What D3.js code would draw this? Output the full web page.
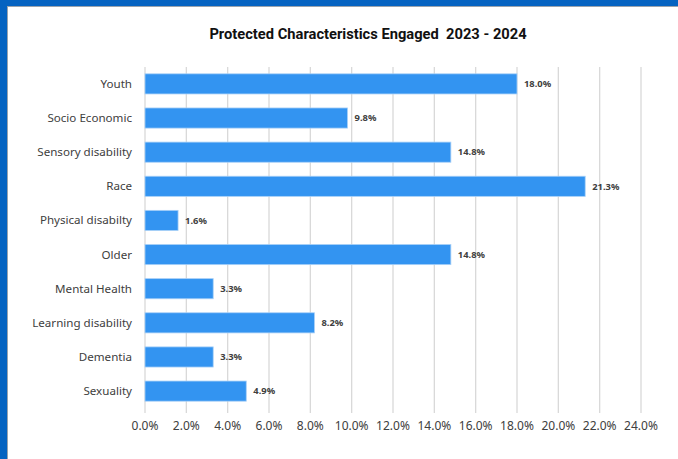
<!DOCTYPE html>
<html>
<head>
<meta charset="utf-8">
<script src="https://cdn.jsdelivr.net/npm/d3@7"></script>
<style>
  body { margin: 0; background: #fff; }
  svg { display: block; }
</style>
</head>
<body>
<div class="chart"></div>
<script>
var categories = ['Youth', 'Socio Economic', 'Sensory disability', 'Race', 'Physical disabilty',
                  'Older', 'Mental Health', 'Learning disability', 'Dementia', 'Sexuality'];
var values = [18.0, 9.8, 14.8, 21.3, 1.6, 14.8, 3.3, 8.2, 3.3, 4.9];
var xTicks = [0, 2, 4, 6, 8, 10, 12, 14, 16, 18, 20, 22, 24];
var title = 'Protected Characteristics Engaged  2023 - 2024';

var width = 678,
    height = 459,
    plotLeft = 145,
    plotRight = 641,
    plotTop = 67,
    plotBottom = 408;

var svg = d3.select('.chart')
  .append('svg')
    .attr('width', width)
    .attr('height', height);

// frame
svg.append('rect').attr('x', 0).attr('y', 0).attr('width', width).attr('height', height).attr('fill', '#fff');
svg.append('rect').attr('x', 0).attr('y', 0).attr('width', width).attr('height', 6).attr('fill', '#0563c1');
svg.append('rect').attr('x', 0).attr('y', 0).attr('width', 7).attr('height', height).attr('fill', '#0563c1');
svg.append('line').attr('x1', 7).attr('x2', width).attr('y1', 6.5).attr('y2', 6.5).attr('stroke', '#9aa3ad').attr('stroke-width', 1);
svg.append('line').attr('x1', 7.5).attr('x2', 7.5).attr('y1', 6).attr('y2', height).attr('stroke', '#9aa3ad').attr('stroke-width', 1);

var x = d3.scaleLinear().domain([0, 24]).range([plotLeft, plotRight]);
var y = d3.scaleBand().domain(categories).range([plotTop, plotBottom]).paddingInner(0.41).paddingOuter(0.2);

var font = '"Liberation Sans Narrow", "Roboto", "Liberation Sans", sans-serif';

svg.append('text')
    .attr('x', 368)
    .attr('y', 39)
    .attr('text-anchor', 'middle')
    .attr('xml:space', 'preserve')
    .style('white-space', 'pre')
    .style('font-family', font)
    .style('font-weight', 'bold')
    .style('font-size', '14.7px')
    .style('fill', '#111')
    .text(title);

// gridlines
svg.append('g').selectAll('line').data(xTicks).enter().append('line')
    .attr('x1', function(d) { return x(d); })
    .attr('x2', function(d) { return x(d); })
    .attr('y1', plotTop)
    .attr('y2', plotBottom + 5)
    .attr('stroke', '#d9d9d9')
    .attr('stroke-width', 1.3);

// x tick labels
svg.append('g').selectAll('text').data(xTicks).enter().append('text')
    .attr('x', function(d) { return x(d); })
    .attr('y', 430)
    .attr('text-anchor', 'middle')
    .style('font-family', '"Noto Sans", sans-serif')
    .style('font-size', '12px')
    .style('fill', '#404040')
    .text(function(d) { return d.toFixed(1) + '%'; });

// category labels
svg.append('g').selectAll('text').data(categories).enter().append('text')
    .attr('x', 132)
    .attr('y', function(d) { return y(d) + y.bandwidth() / 2; })
    .attr('dy', '0.35em')
    .attr('text-anchor', 'end')
    .style('font-family', '"Noto Sans", sans-serif')
    .style('font-size', '11.6px')
    .style('fill', '#404040')
    .text(function(d) { return d; });

// bars
svg.append('g').selectAll('rect').data(values).enter().append('rect')
    .attr('x', x(0))
    .attr('y', function(d, i) { return y(categories[i]); })
    .attr('width', function(d) { return x(d) - x(0); })
    .attr('height', y.bandwidth())
    .attr('fill', '#3394f1')
    .attr('stroke', '#a9d0f7')
    .attr('stroke-width', 0.8);

// value labels
svg.append('g').selectAll('text').data(values).enter().append('text')
    .attr('x', function(d) { return x(d) + 7; })
    .attr('y', function(d, i) { return y(categories[i]) + y.bandwidth() / 2; })
    .attr('dy', '0.35em')
    .style('font-family', '"Noto Sans", sans-serif')
    .style('font-size', '9.4px')
    .style('font-weight', 'bold')
    .style('fill', '#404040')
    .text(function(d) { return d.toFixed(1) + '%'; });
</script>
</body>
</html>
